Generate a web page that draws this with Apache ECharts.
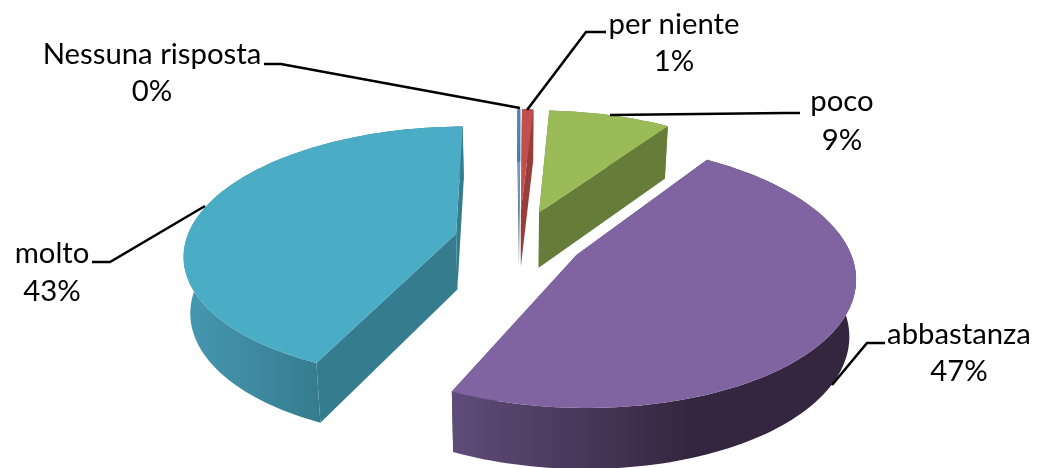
<!DOCTYPE html>
<html>
<head>
<meta charset="utf-8">
<style>html,body{margin:0;padding:0;background:#fff}#c{width:1039px;height:468px}</style>
<script src="https://cdn.jsdelivr.net/npm/echarts@6/dist/echarts.min.js"></script>
</head>
<body>
<div id="c"></div>
<script>
const categories = ['Nessuna risposta', 'per niente', 'poco', 'abbastanza', 'molto'];
const values = [0.2, 0.8, 8.6, 47.4, 43.0];

const topColors = ['#4F81BD', '#C0504D', '#9BBB59', '#8064A2', '#4BACC6'];
const cutColors = ['#3B6490', '#983D3A', '#667D3A', '#5F4A78', '#367C8F'];
const wallStops = [
  ['#3B6490', '#3B6490', 500, 540],
  ['#983D3A', '#983D3A', 500, 540],
  ['#667D3A', '#667D3A', 540, 680],
  ['#5F4B78', '#35263F', 455, 690],
  ['#4597B0', '#367C8F', 190, 318]
];
const labelCenters = [[152, 55, 92], [674, 25, 62], [842, 102, 141], [959, 335, 372], [52, 254, 292]];
const leaders = [
  [[264, 64], [281, 64], [520, 108]],
  [[606, 32], [586, 32], [527, 110]],
  [[800, 113], [785, 113], [610, 115]],
  [[885, 343], [867, 343], [832, 385]],
  [[92, 262], [110, 262], [205, 206]]
];

const cx = 519, cy = 240, A = 270, B = 125, k = 0.15;
const explode = 0.24, startDeg = -0.4, depth = 56, botX = 0.98, botY = 1.03;
const total = values.reduce((a, b) => a + b, 0);
const rad = Math.PI / 180;

function project(u, v) {
  const w = 1 - k * v;
  return [A * u / w, B * v / w];
}
function topPt(p) { return [cx + p[0], cy + p[1]]; }
function botPt(p) { return [cx + p[0] * botX, cy + p[1] * botY + depth]; }

const chart = echarts.init(document.getElementById('c'), null, { renderer: 'canvas' });

function renderItem(params, api) {
  const i = api.value(0);
  let before = 0;
  for (let j = 0; j < i; j++) before += values[j];
  const a0 = startDeg + before / total * 360;
  const a1 = a0 + api.value(1) / total * 360;
  const mid = (a0 + a1) / 2 * rad;
  const ex = explode * Math.sin(mid), ey = -explode * Math.cos(mid);
  const apex = project(ex, ey);
  const n = Math.max(2, Math.ceil((a1 - a0) / 1.5));
  const rim = [];
  for (let s = 0; s <= n; s++) {
    const t = (a0 + (a1 - a0) * s / n) * rad;
    rim.push(project(ex + Math.sin(t), ey - Math.cos(t)));
  }
  const first = rim[0], last = rim[rim.length - 1];
  const quad = (p) => [topPt(apex), topPt(p), botPt(p), botPt(apex)];
  const w = wallStops[i];
  const children = [
    { type: 'polygon', shape: { points: quad(first) }, style: { fill: cutColors[i] } },
    { type: 'polygon', shape: { points: quad(last) }, style: { fill: cutColors[i] } },
    {
      type: 'polygon',
      shape: { points: rim.map(topPt).concat(rim.slice().reverse().map(botPt)) },
      style: {
        fill: {
          type: 'linear', x: w[2], y: 0, x2: w[3], y2: 0, global: true,
          colorStops: [{ offset: 0, color: w[0] }, { offset: 1, color: w[1] }]
        }
      }
    },
    {
      type: 'polygon',
      shape: { points: [topPt(apex)].concat(rim.map(topPt)) },
      style: { fill: topColors[i] }
    },
    {
      type: 'polyline',
      shape: { points: leaders[i] },
      style: { stroke: '#000', lineWidth: 2.6, fill: null }
    }
  ];
  const pos = labelCenters[i];
  const font = '29.3px Lato';
  const shown = Math.round(api.value(1));
  children.push(
    { type: 'text', x: pos[0], y: pos[1], style: { text: categories[i], font, fill: '#000', align: 'center', verticalAlign: 'middle' } },
    { type: 'text', x: pos[0], y: pos[2], style: { text: shown + '%', font, fill: '#000', align: 'center', verticalAlign: 'middle' } }
  );
  return { type: 'group', children };
}

chart.setOption({
  animation: false,
  backgroundColor: '#fff',
  series: [{
    type: 'custom',
    coordinateSystem: 'none',
    silent: true,
    renderItem,
    data: categories.map((name, i) => ({ name, value: [i, values[i]] }))
  }]
});
</script>
</body>
</html>
